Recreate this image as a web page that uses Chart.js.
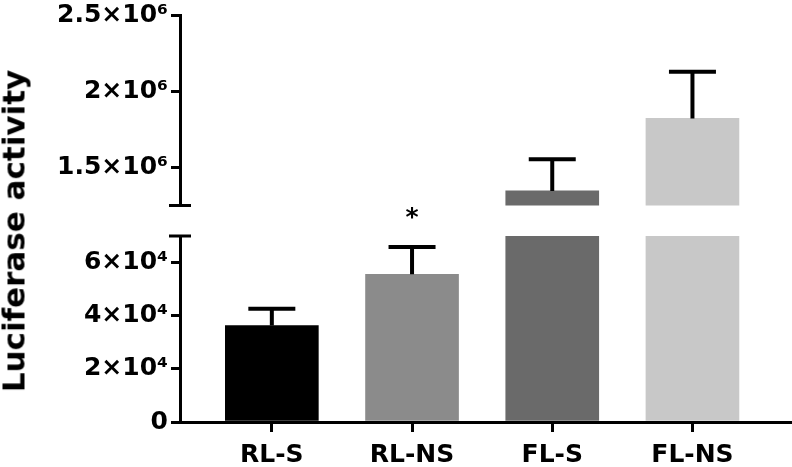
<!DOCTYPE html>
<html>
<head>
<meta charset="utf-8">
<style>
  body { margin: 0; background: #fff; }
  #wrap { position: relative; width: 792px; height: 467px; overflow: hidden; }
  #wrap canvas { position: absolute; left: 0; }
  #cTop { top: 0; }
  #cBottom { top: 200px; }
  #ytitle {
    position: absolute; left: 14px; top: 231px;
    transform: translate(-50%, -50%) rotate(-90deg);
    font: bold 31px "DejaVu Sans"; line-height: 1; white-space: nowrap; color: #000;
  }
</style>
</head>
<body>
<div id="wrap">
  <canvas id="cTop" width="792" height="221"></canvas>
  <canvas id="cBottom" width="792" height="267"></canvas>
  <div id="ytitle">Luciferase activity</div>
</div>

<script src="https://cdn.jsdelivr.net/npm/chart.js@4.4.6/dist/chart.umd.min.js"></script>
<script>
// data
const categories = ['RL-S', 'RL-NS', 'FL-S', 'FL-NS'];
const means = [36300, 55600, 1346000, 1823000];
const errors = [6300, 10300, 208000, 307000];
const barColors = ['#000000', '#8b8b8b', '#6a6a6a', '#c8c8c8'];
const marks = ['', '*', '', ''];

// broken y axis: two segments
const upperTicks = [1500000, 2000000, 2500000];
const upperTickLabels = ['1.5×10⁶', '2×10⁶', '2.5×10⁶'];
const lowerTicks = [0, 20000, 40000, 60000];
const lowerTickLabels = ['0', '2×10⁴', '4×10⁴', '6×10⁴'];

Chart.defaults.font.family = 'DejaVu Sans';
Chart.defaults.font.weight = 'bold';
Chart.defaults.color = '#000';

const barData = means.map((v, i) => ({ x: i, y: v }));

// error bars + significance marks
const errorBars = {
  id: 'errorBars',
  afterDatasetsDraw(chart) {
    const xs = chart.scales.x, ys = chart.scales.y, a = chart.chartArea;
    const ctx = chart.ctx;
    ctx.save();
    ctx.beginPath();
    ctx.rect(a.left, a.top - 2, a.right - a.left, a.bottom - a.top + 2);
    ctx.clip();
    ctx.strokeStyle = '#000';
    ctx.lineWidth = 4;
    means.forEach((m, i) => {
      const x = xs.getPixelForValue(i);
      const y0 = ys.getPixelForValue(m);
      const y1 = ys.getPixelForValue(m + errors[i]);
      ctx.beginPath();
      ctx.moveTo(x, y0);
      ctx.lineTo(x, y1);
      ctx.moveTo(x - 23.5, y1);
      ctx.lineTo(x + 23.5, y1);
      ctx.stroke();
    });
    ctx.restore();

    if (chart.options.showMarks) {
      ctx.save();
      ctx.font = 'bold 25px "DejaVu Sans"';
      ctx.textAlign = 'center';
      ctx.textBaseline = 'alphabetic';
      ctx.fillStyle = '#000';
      marks.forEach((s, i) => {
        if (!s) return;
        ctx.fillText(s, xs.getPixelForValue(i), ys.getPixelForValue(means[i] + errors[i]) - 22);
      });
      ctx.restore();
    }
  }
};

// little break marks across the y axis
const axisBreak = {
  id: 'axisBreak',
  afterDraw(chart) {
    const a = chart.chartArea, ctx = chart.ctx;
    const y = chart.options.breakAt === 'bottom' ? a.bottom : a.top;
    ctx.save();
    ctx.strokeStyle = '#000';
    ctx.lineWidth = 3;
    ctx.beginPath();
    ctx.moveTo(a.left - 11, y);
    ctx.lineTo(a.left + 11, y);
    ctx.stroke();
    ctx.restore();
  }
};

function xScale(show) {
  const sc = {
    type: 'linear',
    display: show,
    offset: false,
    min: -0.655,
    max: 3.71,
    afterBuildTicks: s => { s.ticks = categories.map((c, i) => ({ value: i })); },
    border: { color: '#000', width: 3 },
    grid: { offset: false, drawOnChartArea: false, color: '#000', lineWidth: 3, tickLength: 10 },
    ticks: {
      padding: 8,
      font: { size: 25, weight: 'bold' },
      maxRotation: 0,
      callback: (v, i) => categories[i]
    }
  };
  if (show) sc.afterFit = s => { s.height = 45; };
  return sc;
}

function yScale(min, max, tickVals, tickLabels) {
  return {
    min: min,
    max: max,
    afterBuildTicks: s => { s.ticks = tickVals.map(v => ({ value: v })); },
    afterFit: s => { s.width = 180; },
    border: { color: '#000', width: 3 },
    grid: { drawOnChartArea: false, color: '#000', lineWidth: 3, tickLength: 9 },
    ticks: {
      padding: 3,
      font: { size: 25, weight: 'bold', lineHeight: 1 },
      callback: (v, i) => tickLabels[i]
    }
  };
}

function dataset() {
  return {
    data: barData,
    backgroundColor: barColors,
    borderWidth: 0,
    barThickness: 93,
    clip: 0
  };
}

new Chart(document.getElementById('cTop'), {
  type: 'bar',
  data: { datasets: [dataset()] },
  options: {
    responsive: false,
    animation: false,
    breakAt: 'bottom',
    layout: { padding: { top: 15, bottom: 10, left: 0, right: 0 } },
    plugins: { legend: { display: false }, tooltip: { enabled: false } },
    scales: {
      x: xScale(false),
      y: yScale(1250000, 2500000, upperTicks, upperTickLabels)
    }
  },
  plugins: [errorBars, axisBreak]
});

new Chart(document.getElementById('cBottom'), {
  type: 'bar',
  data: { datasets: [dataset()] },
  options: {
    responsive: false,
    animation: false,
    breakAt: 'top',
    showMarks: true,
    layout: { padding: { top: 36, bottom: 0, left: 0, right: 0 } },
    plugins: { legend: { display: false }, tooltip: { enabled: false } },
    scales: {
      x: xScale(true),
      y: yScale(0, 70000, lowerTicks, lowerTickLabels)
    }
  },
  plugins: [errorBars, axisBreak]
});
</script>
</body>
</html>
